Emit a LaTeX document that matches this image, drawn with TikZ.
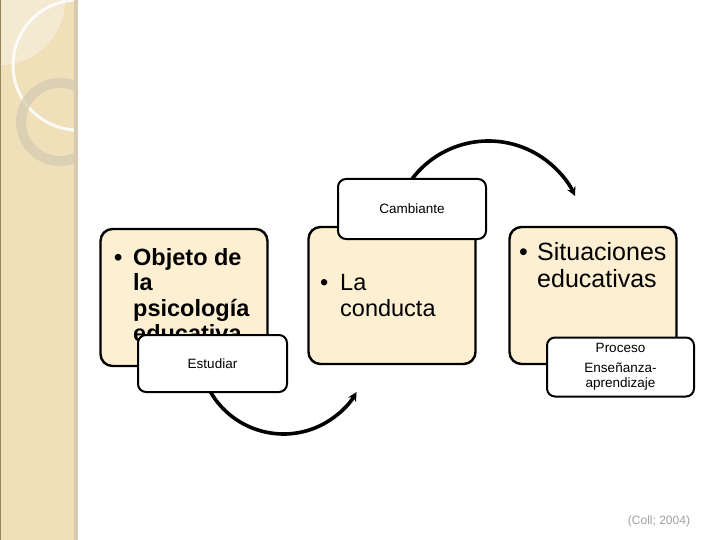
\documentclass[tikz,border=0pt]{standalone}
\usepackage{fontspec}
\setmainfont{Liberation Sans}
\usetikzlibrary{arrows.meta}
\definecolor{sidebar}{RGB}{239,224,186}
\definecolor{sideedge}{RGB}{214,203,176}
\definecolor{sidedark}{RGB}{150,130,92}
\definecolor{boxfill}{RGB}{253,239,210}
\definecolor{ringgray}{RGB}{214,203,178}
\definecolor{citegray}{RGB}{160,160,160}
\begin{document}
\begin{tikzpicture}[x=1pt,y=-1pt,
  bigbox/.style={draw=black, line width=2.4pt, fill=boxfill, rounded corners=12pt,
    minimum width=167pt, minimum height=137pt, inner sep=0pt},
  smallbox/.style={draw=black, line width=2pt, fill=white, rounded corners=8pt,
    minimum width=148pt, minimum height=58pt, inner sep=0pt, align=center,
    font=\fontsize{13.5}{15.5}\selectfont},
  boldtxt/.style={anchor=base west, inner sep=0pt, font=\fontsize{23.5}{25}\selectfont\bfseries},
  midtxt/.style={anchor=base west, inner sep=0pt, font=\fontsize{23.5}{26}\selectfont},
  largetxt/.style={anchor=base west, inner sep=0pt, font=\fontsize{25}{28}\selectfont},
  conn/.style={line width=3.6pt, -{Stealth[length=9pt,width=9pt]}}
]
\useasboundingbox (0,0) rectangle (720,540);
\fill[white] (0,0) rectangle (720,540);
% sidebar
\fill[sidebar] (0,0) rectangle (78,540);
\begin{scope}
  \clip (0,0) rectangle (78,540);
  \fill[white, opacity=0.35] (0,0) -- (65pt,0) arc[start angle=0, end angle=-90, radius=65pt] -- cycle;
  \draw[white, line width=3pt, opacity=0.85] (78,65) circle[radius=65pt];
  \draw[ringgray, line width=10pt, opacity=0.75] (60,122) circle[radius=39pt];
\end{scope}
\fill[sideedge] (74,0) rectangle (78,540);
\fill[sidedark] (0,0) rectangle (1.2,540);

% big boxes
\node[bigbox] (objeto) at (184,297.5) {};
\node[bigbox] (conducta) at (392,295.5) {};
\node[bigbox] (situaciones) at (593,295.5) {};

% texts of box 1
\node[boldtxt] (b1) at (114,265) {•};
\node[boldtxt] (t1a) at (133,265) {Objeto de};
\node[boldtxt] (t1b) at (133,290.5) {la};
\node[boldtxt] (t1c) at (133,316) {psicología};
\node[boldtxt] (t1d) at (133,341.5) {educativa};

% texts of box 2
\node[midtxt] (b2) at (320,290) {•};
\node[midtxt] (t2a) at (340,290) {La};
\node[midtxt] (t2b) at (340,316) {conducta};

% texts of box 3
\node[largetxt] (b3) at (519,260) {•};
\node[largetxt] (t3a) at (537,260) {Situaciones};
\node[largetxt] (t3b) at (537,287) {educativas};

% small boxes (placed first so the arrows can start at them)
\coordinate (s1) at (210.5,392);
\coordinate (s2) at (412,179);
\draw[conn] (s1) arc[start angle=210.2, end angle=329.8, radius=84.5pt] coordinate (e1);
\draw[conn] (s2) arc[start angle=142.9, end angle=25.2, radius=95.8pt] coordinate (e2);

\node[smallbox, minimum width=149pt, minimum height=57pt] (estudiar) at (212.5,363.5) {Estudiar};
\node[smallbox, minimum height=60pt] (cambiante) at (412,209) {Cambiante};
\node[smallbox, minimum width=147pt, minimum height=59pt] (proceso) at (620.5,367)
  {Proceso\\[4pt]Enseñanza-\\aprendizaje};

% citation
\node[text=citegray, font=\fontsize{12}{14}\selectfont] (cite) at (659,521) {(Coll; 2004)};
\end{tikzpicture}
\end{document}
